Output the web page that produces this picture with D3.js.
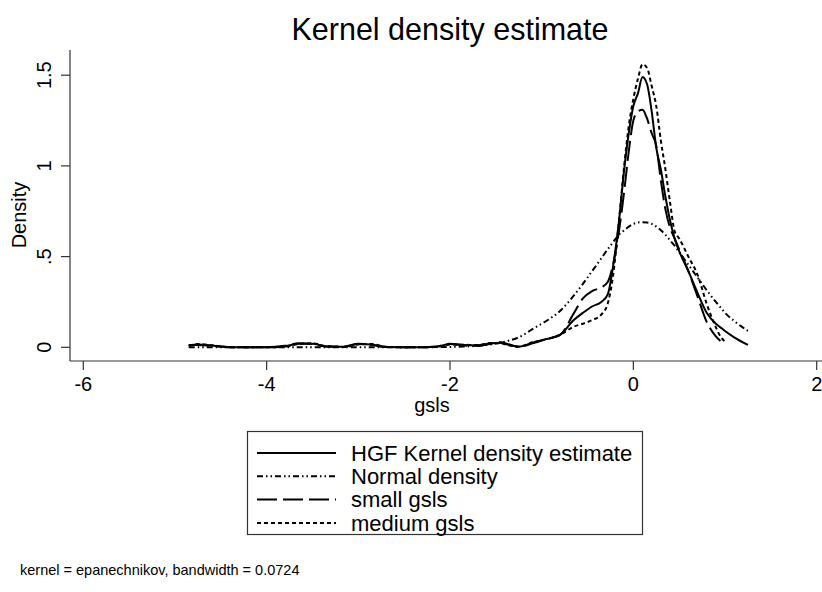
<!DOCTYPE html>
<html>
<head>
<meta charset="utf-8">
<script src="https://cdn.jsdelivr.net/npm/d3@7"></script>
<style>
  body { margin: 0; background: #fff; }
  svg { font-family: "Liberation Sans", Arial, sans-serif; }
</style>
</head>
<body>
<svg width="822" height="592"></svg>
<script>
// grid of gsls values the densities were read at
const gsls = [-4.85, -4.75, -4.6, -4.45, -4.3, -4.0, -3.8, -3.65, -3.5, -3.35,
  -3.15, -3.0, -2.85, -2.7, -2.4, -2.15, -2.0, -1.85, -1.7, -1.55,
  -1.45, -1.35, -1.25, -1.1, -0.95, -0.8, -0.65, -0.55, -0.45, -0.35,
  -0.28, -0.22, -0.16, -0.1, -0.05, 0, 0.05, 0.1, 0.15, 0.2,
  0.25, 0.3, 0.35, 0.4, 0.45, 0.5, 0.6, 0.7, 0.8, 0.9,
  0.95, 1.0, 1.1, 1.25];

const hgfDensity = [0.01, 0.015, 0.01, 0.002, 0, 0, 0.005, 0.02, 0.02, 0.005,
  0.003, 0.018, 0.015, 0.002, 0, 0.003, 0.018, 0.012, 0.01, 0.022,
  0.025, 0.012, 0.003, 0.025, 0.045, 0.068, 0.15, 0.19, 0.225, 0.25,
  0.29, 0.45, 0.68, 0.98, 1.18, 1.33, 1.40, 1.49, 1.45, 1.30,
  1.10, 0.98, 0.83, 0.70, 0.60, 0.53, 0.42, 0.30, 0.19, 0.13,
  0.11, 0.09, 0.055, 0.013];

const normalDensity = [0, 0, 0, 0, 0, 0, 0, 0, 0, 0,
  0, 0, 0, 0, 0, 0.001, 0.002, 0.004, 0.008, 0.016,
  0.025, 0.038, 0.055, 0.10, 0.145, 0.20, 0.285, 0.35, 0.42, 0.49,
  0.54, 0.58, 0.62, 0.645, 0.665, 0.68, 0.688, 0.69, 0.688, 0.68,
  0.665, 0.645, 0.62, 0.59, 0.56, 0.525, 0.455, 0.385, 0.315, 0.25,
  0.22, 0.19, 0.145, 0.09];

const smallDensity = [0.012, 0.012, 0.008, 0.003, 0, 0, 0.008, 0.022, 0.018, 0.004,
  0.005, 0.02, 0.012, 0.002, 0, 0.005, 0.02, 0.01, 0.008, 0.02,
  0.028, 0.015, 0.002, 0.022, 0.045, 0.068, 0.187, 0.27, 0.31, 0.33,
  0.36, 0.46, 0.63, 0.86, 1.08, 1.25, 1.30, 1.31, 1.26, 1.18,
  1.11, 0.92, 0.76, 0.66, 0.60, 0.54, 0.42, 0.28, 0.14, 0.06,
  0.035, null, null, null];

const mediumDensity = [0.008, 0.018, 0.012, 0.002, 0, 0, 0.004, 0.018, 0.022, 0.006,
  0.002, 0.016, 0.018, 0.003, 0, 0.002, 0.015, 0.014, 0.012, 0.024,
  0.022, 0.01, 0.004, 0.028, 0.045, 0.068, 0.114, 0.13, 0.15, 0.18,
  0.24, 0.40, 0.68, 1.0, 1.22, 1.37, 1.48, 1.56, 1.54, 1.44,
  1.33, 1.14, 0.98, 0.80, 0.64, 0.60, 0.50, 0.40, 0.24, 0.11,
  0.06, 0.03, null, null];

const xTicks = [-6, -4, -2, 0, 2];
const yTicks = [0, 0.5, 1, 1.5];
const yTickLabels = ["0", ".5", "1", "1.5"];
const seriesNames = ["HGF Kernel density estimate", "Normal density", "small gsls", "medium gsls"];
const seriesDash = [null, "6,3,1.5,3,1.5,3", "20,6", "4,3"];

const svg = d3.select("svg");

const x = d3.scaleLinear().domain([-6, 2]).range([83.3, 816.7]);
const y = d3.scaleLinear().domain([0, 1.5]).range([347.3, 75.2]);

// title
svg.append("text")
    .attr("x", 450).attr("y", 40)
    .attr("text-anchor", "middle")
    .style("font-size", "30.5px")
    .text("Kernel density estimate");

// axes
const axisColor = "#333";
svg.append("line")
    .attr("x1", 70).attr("x2", 822).attr("y1", 361).attr("y2", 361)
    .attr("stroke", axisColor).attr("stroke-width", 1.2);
svg.append("line")
    .attr("x1", 70).attr("x2", 70).attr("y1", 50).attr("y2", 361)
    .attr("stroke", axisColor).attr("stroke-width", 1.2);

const xt = svg.append("g").selectAll("g").data(xTicks).join("g")
    .attr("transform", d => `translate(${x(d)},361)`);
xt.append("line").attr("y2", 9).attr("stroke", axisColor).attr("stroke-width", 1.2);
xt.append("text").attr("y", 30).attr("text-anchor", "middle")
    .style("font-size", "20px").text(d => d);

const yt = svg.append("g").selectAll("g").data(yTicks).join("g")
    .attr("transform", d => `translate(70,${y(d)})`);
yt.append("line").attr("x2", -9).attr("stroke", axisColor).attr("stroke-width", 1.2);
yt.append("text").attr("transform", "translate(-19,0) rotate(-90)")
    .attr("text-anchor", "middle")
    .style("font-size", "20px").text((d, i) => yTickLabels[i]);

svg.append("text")
    .attr("transform", "translate(26,215) rotate(-90)")
    .attr("text-anchor", "middle")
    .style("font-size", "20px")
    .text("Density");

svg.append("text")
    .attr("x", 432).attr("y", 412)
    .attr("text-anchor", "middle")
    .style("font-size", "20px")
    .text("gsls");

// curves
const allSeries = [hgfDensity, normalDensity, smallDensity, mediumDensity];
const line = d3.line()
    .defined(d => d[1] !== null)
    .x(d => x(d[0]))
    .y(d => y(d[1]))
    .curve(d3.curveMonotoneX);

svg.append("g").selectAll("path")
    .data(allSeries)
    .join("path")
    .attr("d", s => line(gsls.map((g, i) => [g, s[i]])))
    .attr("fill", "none")
    .attr("stroke", "black")
    .attr("stroke-width", 2)
    .attr("stroke-dasharray", (s, i) => seriesDash[i]);

// legend
const legend = svg.append("g");
legend.append("rect")
    .attr("x", 247.5).attr("y", 431.5).attr("width", 395).attr("height", 103)
    .attr("fill", "none").attr("stroke", axisColor).attr("stroke-width", 1.2);

const rows = legend.selectAll("g.row").data(seriesNames).join("g")
    .attr("class", "row")
    .attr("transform", (d, i) => `translate(0,${453 + i * 23.3})`);
rows.append("line")
    .attr("x1", 257).attr("x2", 336)
    .attr("stroke", "black").attr("stroke-width", 2)
    .attr("stroke-dasharray", (d, i) => seriesDash[i]);
rows.append("text")
    .attr("x", 351).attr("y", 7.8)
    .style("font-size", "22px")
    .text(d => d);

// note
svg.append("text")
    .attr("x", 20).attr("y", 575)
    .style("font-size", "14.5px")
    .text("kernel = epanechnikov, bandwidth = 0.0724");
</script>
</body>
</html>
